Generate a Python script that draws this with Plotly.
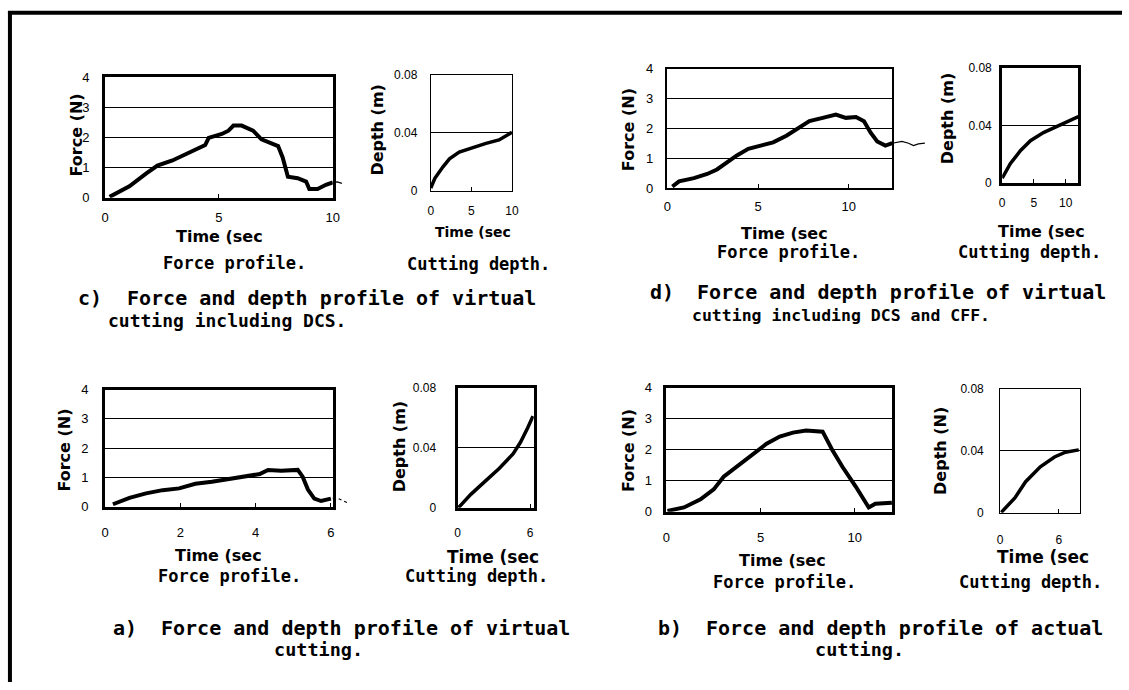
import plotly.graph_objects as go

W, H = 1129, 690

# ---------------- data ----------------
c_force_t = [0.2, 1.07, 1.8, 2.3, 2.96, 3.54, 4.12, 4.4, 4.55, 5.13, 5.42, 5.64, 6.0, 6.5, 6.87, 7.23, 7.6, 7.8, 8.03, 8.46, 8.83, 8.97, 9.33, 9.7, 10.0]
c_force_f = [0.03, 0.38, 0.8, 1.07, 1.24, 1.45, 1.67, 1.75, 1.99, 2.12, 2.23, 2.40, 2.40, 2.23, 1.94, 1.83, 1.72, 1.34, 0.70, 0.65, 0.54, 0.29, 0.29, 0.43, 0.51]
c_tail_t = [10.0, 10.2, 10.4]
c_tail_f = [0.51, 0.53, 0.48]
c_depth_t = [0, 0.5, 1.5, 2.3, 3.5, 5.2, 6.8, 8.4, 9.6, 10.0]
c_depth_d = [0.002, 0.0087, 0.0166, 0.022, 0.0267, 0.030, 0.0327, 0.035, 0.039, 0.0403]

d_force_t = [0.27, 0.64, 1.46, 2.19, 2.73, 3.28, 3.83, 4.46, 5.1, 5.83, 6.56, 7.1, 7.83, 8.56, 9.29, 9.84, 10.4, 10.84, 11.2, 11.57, 12.02, 12.4]
d_force_f = [0.05, 0.22, 0.33, 0.47, 0.62, 0.87, 1.09, 1.31, 1.42, 1.53, 1.75, 1.97, 2.24, 2.35, 2.46, 2.35, 2.38, 2.24, 1.86, 1.56, 1.42, 1.50]
d_tail_t = [12.4, 12.93, 13.3, 13.57, 13.84, 14.2]
d_tail_f = [1.50, 1.56, 1.50, 1.42, 1.48, 1.50]
d_depth_t = [0, 1.3, 2.9, 4.45, 6.5, 8.5, 10.3, 12.0]
d_depth_d = [0.0034, 0.0136, 0.0226, 0.0294, 0.035, 0.0390, 0.0425, 0.046]

a_force_t = [0.21, 0.65, 1.09, 1.53, 1.97, 2.4, 2.84, 3.28, 3.72, 4.11, 4.33, 4.68, 5.12, 5.25, 5.39, 5.56, 5.74, 6.0]
a_force_f = [0.09, 0.31, 0.46, 0.57, 0.63, 0.79, 0.86, 0.94, 1.03, 1.12, 1.26, 1.23, 1.26, 1.03, 0.59, 0.28, 0.2, 0.28]
a_tail_t = [6.05, 6.2, 6.44]
a_tail_f = [0.3, 0.28, 0.14]
a_depth_t = [0.08, 1.1, 2.27, 3.44, 4.6, 5.2, 5.8, 6.23]
a_depth_d = [0.0002, 0.009, 0.0176, 0.0262, 0.036, 0.0436, 0.0533, 0.061]

b_force_t = [0.05, 0.93, 1.81, 2.51, 3.04, 3.74, 4.62, 5.32, 6.02, 6.72, 7.42, 8.3, 8.83, 9.35, 10.05, 10.75, 11.1, 11.98]
b_force_f = [0.03, 0.14, 0.40, 0.72, 1.13, 1.45, 1.89, 2.19, 2.42, 2.55, 2.62, 2.58, 1.97, 1.45, 0.82, 0.14, 0.26, 0.29]
b_depth_t = [0.1, 1.5, 2.6, 4.1, 5.55, 6.67, 8.03]
b_depth_d = [0.0002, 0.0096, 0.020, 0.0296, 0.0359, 0.039, 0.0405]

force_ticks = [0, 1, 2, 3, 4]
depth_ticks = [0, 0.04, 0.08]
depth_ticktext = ["0", "0.04", "0.08"]

x_title = "Time (sec"
force_title = "Force (N)"
depth_title_m = "Depth (m)"
depth_title_n = "Depth (N)"
sub_force = "Force profile."
sub_depth = "Cutting depth."

captions = {
    "c": ("c)", "Force and depth profile of virtual", "cutting including DCS."),
    "d": ("d)", "Force and depth profile of virtual", "cutting including DCS and CFF."),
    "a": ("a)", "Force and depth profile of virtual", "cutting."),
    "b": ("b)", "Force and depth profile of actual", "cutting."),
}

# ---------------- layout helpers ----------------
def fx(p):
    return p / W

def fy(p):
    return 1 - p / H

panels = [
    dict(t=c_force_t, v=c_force_f, fr=(102, 332, 72, 195), xmax=10, dx=5, kind="f", lw=3, ys=10, xs=6),
    dict(t=c_depth_t, v=c_depth_d, fr=(431, 513, 69, 188), xmax=10, dx=5, kind="d", lw=1, ys=10, xs=9),
    dict(t=d_force_t, v=d_force_f, fr=(670, 897, 63, 185), xmax=12.4, dx=5, kind="f", lw=1.5, ys=10, xs=6),
    dict(t=d_depth_t, v=d_depth_d, fr=(1008, 1085, 62, 180), xmax=12, dx=5, kind="d", lw=3, ys=5, xs=7),
    dict(t=a_force_t, v=a_force_f, fr=(102, 332, 391, 511), xmax=6.05, dx=2, kind="f", lw=3, ys=11, xs=12),
    dict(t=a_depth_t, v=a_depth_d, fr=(458, 535, 389, 512), xmax=6.3, dx=6, kind="d", lw=3, ys=16, xs=12),
    dict(t=b_force_t, v=b_force_f, fr=(669, 897, 389, 516), xmax=12, dx=5, kind="f", lw=3, ys=9, xs=12),
    dict(t=b_depth_t, v=b_depth_d, fr=(1006, 1087, 390, 517), xmax=8.2, dx=6, kind="d", lw=1, ys=13, xs=16),
]

fig = go.Figure()
layout_axes = {}
for i, p in enumerate(panels, start=1):
    x0, x1, y0, y1 = p["fr"]
    xa = "xaxis" if i == 1 else f"xaxis{i}"
    ya = "yaxis" if i == 1 else f"yaxis{i}"
    xs = "x" if i == 1 else f"x{i}"
    ys = "y" if i == 1 else f"y{i}"
    fig.add_trace(go.Scatter(x=p["t"], y=p["v"], mode="lines", xaxis=xs, yaxis=ys,
                             line=dict(color="black", width=4 if p["kind"] == "f" else 3.5),
                             showlegend=False, hoverinfo="skip"))
    tick_font = dict(family="Liberation Sans, Arial, sans-serif", size=13 if p["kind"] == "f" else 12, color="black")
    layout_axes[xa] = dict(domain=[fx(x0), fx(x1)], range=[0, p["xmax"]], tick0=0, dtick=p["dx"],
                           showline=True, mirror=True, linecolor="black", linewidth=p["lw"],
                           showgrid=False, zeroline=False, ticks="inside", ticklen=4, tickcolor="black",
                           tickfont=tick_font, anchor=ys, ticklabelstandoff=p["xs"], fixedrange=True)
    if p["kind"] == "f":
        yr, tv, tt = [0, 4], force_ticks, [str(v) for v in force_ticks]
    else:
        yr, tv, tt = [0, 0.08], depth_ticks, depth_ticktext
    p["yr"] = yr
    layout_axes[ya] = dict(domain=[fy(y1), fy(y0)], range=yr, tickvals=tv, ticktext=tt,
                           showline=True, mirror=True, linecolor="black", linewidth=p["lw"],
                           showgrid=True, gridcolor="black", gridwidth=1, zeroline=False, ticks="",
                           tickfont=tick_font, anchor=xs, ticklabelstandoff=p["ys"], fixedrange=True)

# thin tails that run past the frames: extra invisible axes with the same scale
tails = [
    (c_tail_t, c_tail_f, 1, 352, "solid"),
    (d_tail_t, d_tail_f, 3, 935, "solid"),
    (a_tail_t, a_tail_f, 5, 352, "dot"),
]
for k, (tt_, tf_, pi, xend, dash) in enumerate(tails, start=9):
    p = panels[pi - 1]
    x0, x1, y0, y1 = p["fr"]
    ext = p["xmax"] * (xend - x0) / (x1 - x0)
    layout_axes[f"xaxis{k}"] = dict(domain=[fx(x0), fx(xend)], range=[0, ext], visible=False,
                                    anchor=f"y{k}", fixedrange=True)
    layout_axes[f"yaxis{k}"] = dict(domain=[fy(y1), fy(y0)], range=p["yr"], visible=False,
                                    anchor=f"x{k}", fixedrange=True)
    fig.add_trace(go.Scatter(x=tt_, y=tf_, mode="lines", xaxis=f"x{k}", yaxis=f"y{k}",
                             line=dict(color="black", width=1.2, dash=dash), showlegend=False, hoverinfo="skip"))

# ---------------- text ----------------
ann = []
def text(s, x, y, size, family, xanchor="center", angle=0, weight="bold"):
    ann.append(dict(text=s, x=fx(x), y=fy(y), xref="paper", yref="paper", showarrow=False,
                    xanchor=xanchor, yanchor="middle", textangle=angle,
                    font=dict(family=family, size=size, color="black", weight=weight)))

MONO = "DejaVu Sans Mono, Liberation Mono, monospace"
SANS = "DejaVu Sans, Liberation Sans, sans-serif"

# axis titles
for (x, y, s) in [(218, 235, 16), (474, 230, 14), (788, 232, 16), (1048, 230, 16),
                  (217, 561, 16), (494, 562, 17), (786, 566, 16), (1049, 562, 17)]:
    text(x_title, x, y, s, SANS)
for (x, y, s, t) in [(73, 131, 16, force_title), (377, 125, 16, depth_title_m),
                     (630, 125, 16, force_title), (953, 114, 16, depth_title_m),
                     (61, 453, 16, force_title), (399, 449, 16, depth_title_m),
                     (630, 453, 16, force_title), (945, 454, 16, depth_title_n)]:
    text(t, x, y, s, SANS, angle=-90)

# sub captions
for (x, y) in [(233, 262), (792, 250), (228, 582), (788, 588)]:
    text(sub_force, x, y, 17, MONO)
for (x, y) in [(479, 263), (1036, 250), (477, 582), (1037, 588)]:
    text(sub_depth, x, y, 17, MONO)

# panel captions: (label x, line1 x, line1 y, line2 x, line2 y, line2 anchor, line2 size)
cap_pos = {"c": (73, 122, 297, 103, 320, "left", 18),
           "d": (650, 698, 291, 693, 315, "left", 16.5),
           "a": (108, 157, 635, 318, 657, "center", 18.5),
           "b": (658, 707, 635, 864, 657, "center", 18.5)}
for key, (lx, fx1, y1_, x2, y2, anc2, s2) in cap_pos.items():
    lab, l1, l2 = captions[key]
    text(lab, lx, y1_, 20, MONO, xanchor="left")
    text(l1, fx1, y1_, 20, MONO, xanchor="left")
    text(l2, x2, y2, s2, MONO, xanchor=anc2)

# outer border (left and top)
shapes = [
    dict(type="line", xref="paper", yref="paper", x0=fx(6), x1=fx(6), y0=fy(4), y1=0,
         line=dict(color="black", width=4)),
    dict(type="line", xref="paper", yref="paper", x0=fx(4), x1=1, y0=fy(6), y1=fy(6),
         line=dict(color="black", width=4)),
]

fig.update_layout(width=W, height=H, margin=dict(l=0, r=0, t=0, b=0), autosize=False,
                  paper_bgcolor="white", plot_bgcolor="rgba(0,0,0,0)", showlegend=False,
                  annotations=ann, shapes=shapes, **layout_axes)

fig.write_html("out.html", config={"displayModeBar": False},
               post_script="document.body.style.margin='0px';")
